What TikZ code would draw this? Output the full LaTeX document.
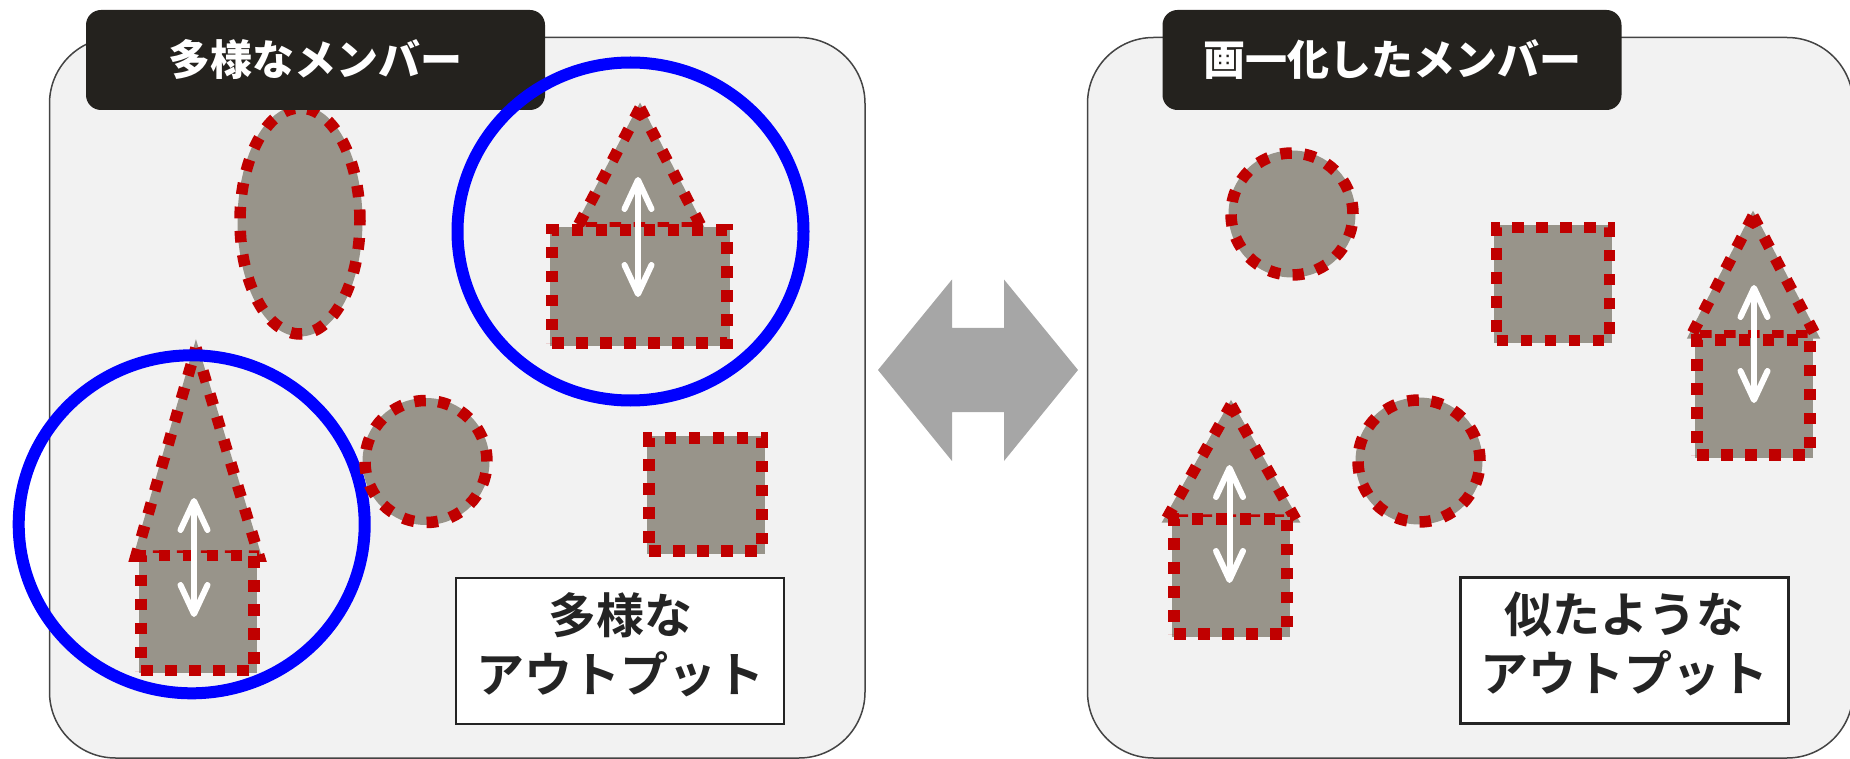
\documentclass[tikz,border=0pt]{standalone}
\usepackage{fontspec}
\newfontfamily\cjk{Noto Sans CJK JP}[BoldFont={Noto Sans CJK JP Bold}]
\newfontfamily\cjkheavy{Noto Sans CJK JP Black}
\usetikzlibrary{positioning,calc,shapes.geometric,arrows.meta}

\definecolor{panelfill}{HTML}{F2F2F2}
\definecolor{panelline}{HTML}{444444}
\definecolor{tagfill}{HTML}{24221E}
\definecolor{partgray}{HTML}{98948A}
\definecolor{partred}{HTML}{C00000}
\definecolor{ringblue}{HTML}{0000FF}
\definecolor{swapgray}{HTML}{A6A6A6}
\definecolor{textdark}{HTML}{242424}

\begin{document}
\begin{tikzpicture}[
    x=1pt, y=-1pt,
    panel/.style={draw=panelline, line width=1.5pt, fill=panelfill, rounded corners=66pt},
    tag/.style={fill=tagfill, rounded corners=15pt, text=white, inner sep=0pt,
        minimum width=459pt, minimum height=100pt, font=\cjkheavy\fontsize{42}{50}\selectfont},
    part/.style={fill=partgray, draw=partred, line width=11.5pt, dash pattern=on 11.5pt off 12.5pt,
        inner sep=0pt, preaction={draw=partgray, line width=5pt, solid}},
    roundpart/.style={part, circle, minimum size=122pt},
    squarepart/.style={part, rectangle, minimum width=113pt, minimum height=113pt},
    ring/.style={draw=ringblue, line width=12pt, ellipse, inner sep=0pt,
        minimum width=346pt, minimum height=338pt},
    lift/.style={white, line width=6pt, line cap=round,
        >={Straight Barb[length=29pt, width=27pt, round]}, <->},
    resultbox/.style={draw=textdark, line width=2.3pt, fill=white, minimum width=328pt, minimum height=146pt},
    resulttext/.style={align=center, text=textdark, inner sep=0pt, font=\cjk\bfseries\fontsize{48}{59}\selectfont}
]
\useasboundingbox (0,0) rectangle (1850,759);
\clip (0,0) rectangle (1850,759);

% Panels
\draw[panel] (49.5,37.5) rectangle (865,758);
\draw[panel] (1087.5,37.5) rectangle (1853,758);

% Left panel: varied members
\node (oval) [part, ellipse, minimum width=120pt, minimum height=226pt] at (300,221) {};

% tall house
\draw[part] (196,348) -- (259,556) -- (136,556) -- cycle;
\node (bodyB) [part, minimum width=113pt, minimum height=115pt] at (197.5,613) {};
\coordinate (topB) at (194,498);
\coordinate (botB) at (194,617);
\draw[lift] (topB) -- (botB);

% short house
\draw[part] (640,108) -- (702,228) -- (577,228) -- cycle;
\node (bodyA) [part, minimum width=175pt, minimum height=113pt] at (639.5,286.5) {};
\coordinate (topA) at (638,177);
\coordinate (botA) at (638,297);
\draw[lift] (topA) -- (botA);

\node (squareL) [squarepart] at (705.5,494.5) {};

% Tag
\node (tagL) [tag] at (315.5,60) {多様なメンバー};

% Rings
\node (ringA) [ring] at (630.5,231.5) {};
\node (ringB) [ring] at (191.7,524.3) {};

\node (roundL) [roundpart] at (426,461.5) {};

% Output box
\node (resultL) [resultbox] at (620,651.3) {};
\node (outL) [resulttext] at ([yshift=6.5pt]resultL.center) {多様な\\アウトプット};

% Middle: swap arrow
\fill[swapgray] (878,370) -- (952,279.5) -- (952,328) -- (1004,328) -- (1004,279.5)
    -- (1078,370) -- (1004,461) -- (1004,412) -- (952,412) -- (952,461) -- cycle;

% Right panel: uniform members
\node (roundR1) [roundpart] at (1292,214) {};
\node (squareR) [squarepart] at (1553,284) {};
\node (roundR2) [roundpart] at (1419,461) {};

\draw[part] (1753,216) -- (1816,336) -- (1691,336) -- cycle;
\node (bodyC) [part, minimum width=113pt, minimum height=115pt] at (1753.5,397.5) {};
\coordinate (topC) at (1754,285);
\coordinate (botC) at (1754,403);
\draw[lift] (topC) -- (botC);

\draw[part] (1231,405) -- (1296,520) -- (1166,520) -- cycle;
\node (bodyD) [part, minimum width=113pt, minimum height=115pt] at (1230.5,576.5) {};
\coordinate (topD) at (1229.5,465);
\coordinate (botD) at (1229.5,583);
\draw[lift] (topD) -- (botD);

\node (tagR) [tag] at (1392,60) {画一化したメンバー};

\node (resultR) [resultbox] at (1624.5,650.5) {};
\node (outR) [resulttext] at ([yshift=6.5pt]resultR.center) {似たような\\アウトプット};

\end{tikzpicture}
\end{document}
